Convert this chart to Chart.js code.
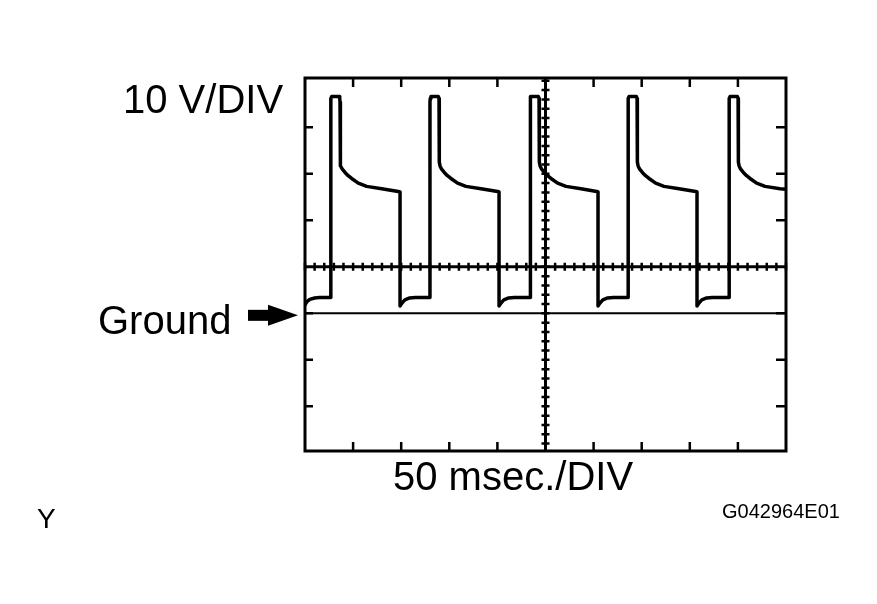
<!DOCTYPE html>
<html>
<head>
<meta charset="utf-8">
<script src="https://cdn.jsdelivr.net/npm/chart.js@4"></script>
<style>
  body { margin: 0; background: #fff; }
  canvas { display: block; }
</style>
</head>
<body>
<canvas id="scope" width="877" height="604"></canvas>
<script>
// trace, time in ms (50 ms/div), volts (10 V/div)
const traceTime = [
  0, 2, 5, 10, 15,
  26.7, 26.7, 27.0, 27.7, 35.4, 36.1, 36.4,
  36.4, 37.2, 38.8, 41.6, 44.9, 48.5, 55.4, 64.1, 79.7, 97.0, 98.8,
  98.8, 100.8, 103.8, 108.8, 114.8,
  129.9, 129.9, 130.2, 130.9, 138.6, 139.3, 139.6,
  139.6, 140.4, 142.0, 144.8, 148.1, 151.7, 158.6, 167.3, 182.9, 200.2, 201.7,
  201.7, 203.7, 206.7, 211.7, 217.7,
  233.9, 233.9, 234.2, 234.9, 242.6, 243.3, 243.6,
  243.6, 244.4, 246.0, 248.8, 252.1, 255.7, 262.6, 271.3, 286.9, 303.2, 304.6,
  304.6, 306.6, 309.6, 314.6, 320.6,
  335.8, 335.8, 336.1, 336.8, 344.5, 345.2, 345.5,
  345.5, 346.3, 347.9, 350.7, 354.0, 357.6, 364.5, 373.2, 388.8, 406.1, 407.5,
  407.5, 409.5, 412.5, 417.5, 423.5,
  440.8, 440.8, 441.1, 441.8, 449.5, 450.2, 450.5,
  450.5, 451.3, 452.9, 455.7, 459.0, 462.6, 469.5, 478.2, 493.8, 500
];
const traceVolts = [
  1.8, 2.5, 3.0, 3.3, 3.4,
  3.4, 45.4, 46.2, 46.6, 46.6, 46.2, 45.4,
  32.5, 31.7, 31.0, 30.3, 29.6, 29.0, 28.0, 27.3, 26.8, 26.2, 26.1,
  1.6, 2.2, 2.9, 3.3, 3.4,
  3.4, 45.4, 46.2, 46.6, 46.6, 46.2, 45.4,
  32.5, 31.7, 31.0, 30.3, 29.6, 29.0, 28.0, 27.3, 26.8, 26.2, 26.1,
  1.6, 2.2, 2.9, 3.3, 3.4,
  3.4, 45.4, 46.2, 46.6, 46.6, 46.2, 45.4,
  32.5, 31.7, 31.0, 30.3, 29.6, 29.0, 28.0, 27.3, 26.8, 26.2, 26.1,
  1.6, 2.2, 2.9, 3.3, 3.4,
  3.4, 45.4, 46.2, 46.6, 46.6, 46.2, 45.4,
  32.5, 31.7, 31.0, 30.3, 29.6, 29.0, 28.0, 27.3, 26.8, 26.2, 26.1,
  1.6, 2.2, 2.9, 3.3, 3.4,
  3.4, 45.4, 46.2, 46.6, 46.6, 46.2, 45.4,
  32.5, 31.7, 31.0, 30.3, 29.6, 29.0, 28.0, 27.3, 26.8, 26.7
];
const groundTime = [0, 500];
const groundVolts = [0, 0];

// graticule
const timeDivs = [50, 100, 150, 200, 300, 350, 400, 450];
const voltDivs = [40, 30, 20, 0, -10, -20];
const centerTime = 250;
const centerVolt = 10;
const timeMinor = [];
for (let t = 0; t <= 500; t += 10) timeMinor.push(t);
const voltMinor = [];
for (let v = -30; v <= 50; v += 2) voltMinor.push(v);

function toPoints(xs, ys) {
  return xs.map((x, i) => ({ x: x, y: ys[i] }));
}

const graticule = {
  id: 'graticule',
  afterDatasetsDraw(chart) {
    const ctx = chart.ctx;
    const a = chart.chartArea;
    const sx = chart.scales.x;
    const sy = chart.scales.y;
    ctx.save();
    ctx.strokeStyle = '#000';
    ctx.lineCap = 'butt';

    // frame
    ctx.lineWidth = 3;
    ctx.strokeRect(a.left, a.top, a.right - a.left, a.bottom - a.top);

    // centre lines
    const cx = sx.getPixelForValue(centerTime);
    const cy = sy.getPixelForValue(centerVolt);
    ctx.beginPath();
    ctx.moveTo(a.left, cy); ctx.lineTo(a.right, cy);
    ctx.moveTo(cx, a.top); ctx.lineTo(cx, a.bottom);
    ctx.stroke();

    // edge ticks
    ctx.lineWidth = 2.5;
    ctx.beginPath();
    timeDivs.forEach(t => {
      const px = sx.getPixelForValue(t);
      ctx.moveTo(px, a.top); ctx.lineTo(px, a.top + 9);
      ctx.moveTo(px, a.bottom); ctx.lineTo(px, a.bottom - 9);
    });
    voltDivs.forEach(v => {
      const py = sy.getPixelForValue(v);
      ctx.moveTo(a.left, py); ctx.lineTo(a.left + 8, py);
      ctx.moveTo(a.right, py); ctx.lineTo(a.right - 10, py);
    });
    ctx.stroke();

    // minor ticks on centre lines
    ctx.beginPath();
    timeMinor.forEach(t => {
      const px = sx.getPixelForValue(t);
      ctx.moveTo(px, cy - 4); ctx.lineTo(px, cy + 4);
    });
    voltMinor.forEach(v => {
      const py = sy.getPixelForValue(v);
      if (py < a.top || py > a.bottom) return;
      ctx.moveTo(cx - 4, py); ctx.lineTo(cx + 4, py);
    });
    ctx.stroke();

    // ground arrow
    const gy = sy.getPixelForValue(0) + 2;
    ctx.fillStyle = '#000';
    ctx.fillRect(248, gy - 5.5, 22, 11);
    ctx.beginPath();
    ctx.moveTo(268, gy - 10.5);
    ctx.lineTo(298, gy);
    ctx.lineTo(268, gy + 10.5);
    ctx.closePath();
    ctx.fill();

    // labels
    ctx.textBaseline = 'alphabetic';
    ctx.textAlign = 'left';
    ctx.font = '40px "Liberation Sans", Arial, sans-serif';
    ctx.fillText('10 V/DIV', 123, 113);
    ctx.fillText('Ground', 98, 334);
    ctx.fillText('50 msec./DIV', 393, 490);
    ctx.font = '28px "Liberation Sans", Arial, sans-serif';
    ctx.fillText('Y', 37, 528);
    ctx.font = '20px "Liberation Sans", Arial, sans-serif';
    ctx.fillText('G042964E01', 722, 518);
    ctx.restore();
  }
};

new Chart(document.getElementById('scope'), {
  type: 'line',
  data: {
    datasets: [
      {
        data: toPoints(traceTime, traceVolts),
        borderColor: '#000',
        borderWidth: 3.5,
        borderJoinStyle: 'round',
        borderCapStyle: 'round',
        pointRadius: 0,
        tension: 0
      },
      {
        data: toPoints(groundTime, groundVolts),
        borderColor: '#000',
        borderWidth: 2,
        pointRadius: 0
      }
    ]
  },
  options: {
    responsive: false,
    animation: false,
    layout: { padding: { left: 305, right: 91, top: 78, bottom: 153 } },
    plugins: { legend: { display: false }, tooltip: { enabled: false } },
    scales: {
      x: { type: 'linear', min: 0, max: 500, display: false },
      y: { type: 'linear', min: -29.6, max: 50.6, display: false }
    }
  },
  plugins: [graticule]
});
</script>
</body>
</html>
